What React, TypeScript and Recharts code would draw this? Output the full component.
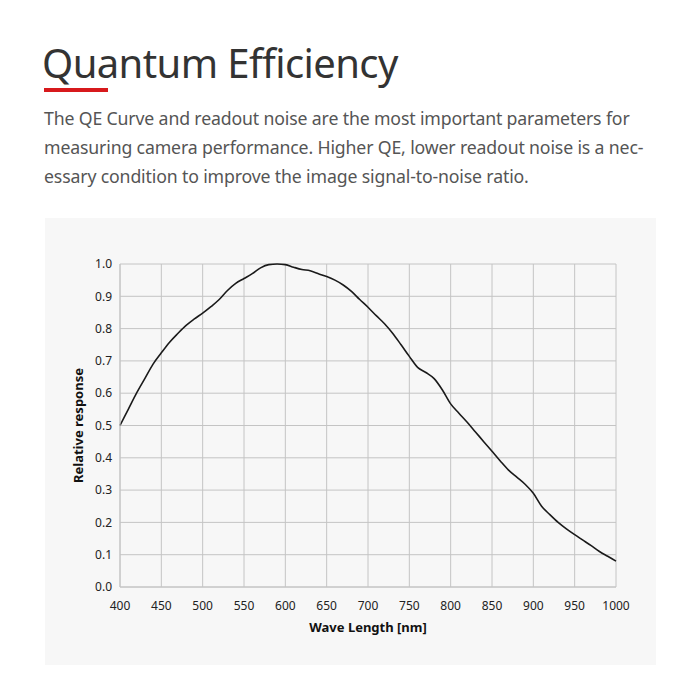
import { LineChart, Line, XAxis, YAxis, CartesianGrid, Label } from "recharts";

const wavelengths = [
  400, 410, 420, 430, 440, 450, 460, 470, 480, 490, 500, 510, 520, 530, 540,
  550, 560, 570, 580, 590, 600, 610, 620, 630, 640, 650, 660, 670, 680, 690,
  700, 710, 720, 730, 740, 750, 760, 770, 780, 790, 800, 810, 820, 830, 840,
  850, 860, 870, 880, 890, 900, 910, 920, 930, 940, 950, 960, 970, 980, 990,
  1000,
];

const response = [
  0.5, 0.55, 0.6, 0.645, 0.69, 0.725, 0.758, 0.785, 0.81, 0.83, 0.848, 0.868,
  0.89, 0.918, 0.94, 0.955, 0.97, 0.988, 0.998, 1.0, 0.998, 0.99, 0.983, 0.979,
  0.97, 0.961, 0.95, 0.935, 0.915, 0.89, 0.866, 0.84, 0.815, 0.785, 0.75,
  0.714, 0.68, 0.664, 0.645, 0.61, 0.567, 0.538, 0.51, 0.48, 0.45, 0.42, 0.39,
  0.362, 0.34, 0.318, 0.29, 0.25, 0.224, 0.2, 0.18, 0.162, 0.145, 0.128, 0.11,
  0.095, 0.08,
];

const xTicks = [400, 450, 500, 550, 600, 650, 700, 750, 800, 850, 900, 950, 1000];
const yTicks = [0, 0.1, 0.2, 0.3, 0.4, 0.5, 0.6, 0.7, 0.8, 0.9, 1.0];

const data = wavelengths.map((w, i) => ({ w, qe: response[i] }));

const GRID = "#c4c4c4";
const FONT = "'Noto Sans', 'Open Sans', sans-serif";

export default function App() {
  return (
    <div
      style={{
        position: "relative",
        width: 700,
        height: 700,
        margin: -8,
        background: "#fff",
        fontFamily: FONT,
        overflow: "hidden",
      }}
    >
      <div
        style={{
          position: "absolute",
          left: 42,
          top: 35,
          fontSize: 40,
          color: "#333",
          letterSpacing: -0.6,
          whiteSpace: "nowrap",
        }}
      >
        Quantum Efficiency
      </div>
      <div
        style={{
          position: "absolute",
          left: 44,
          top: 88,
          width: 64,
          height: 4,
          background: "#d7191c",
        }}
      />
      <div
        style={{
          position: "absolute",
          left: 44,
          top: 104,
          fontSize: 17.7,
          lineHeight: "29px",
          color: "#555",
          whiteSpace: "nowrap",
          letterSpacing: -0.15,
        }}
      >
        The QE Curve and readout noise are the most important parameters for
        <br />
        measuring camera performance. Higher QE, lower readout noise is a nec-
        <br />
        essary condition to improve the image signal-to-noise ratio.
      </div>
      <div
        style={{
          position: "absolute",
          left: 45,
          top: 218,
          width: 611,
          height: 447,
          background: "#f7f7f7",
        }}
      >
        <LineChart
          width={611}
          height={447}
          data={data}
          margin={{ top: 46, right: 40, left: 30, bottom: 0 }}
        >
          <CartesianGrid stroke={GRID} strokeWidth={1} />
          <XAxis
            dataKey="w"
            type="number"
            domain={[400, 1000]}
            ticks={xTicks}
            interval={0}
            height={78}
            axisLine={{ stroke: GRID }}
            tickLine={false}
            tickMargin={8}
            tick={{ fontSize: 12, fill: "#222", fontFamily: FONT }}
          >
            <Label
              value="Wave Length [nm]"
              position="insideTop"
              offset={36}
              style={{
                fontSize: 13,
                fontWeight: 700,
                fill: "#111",
                fontFamily: FONT,
              }}
            />
          </XAxis>
          <YAxis
            type="number"
            domain={[0, 1]}
            ticks={yTicks}
            interval={0}
            width={45}
            axisLine={{ stroke: GRID }}
            tickLine={false}
            tickMargin={2}
            tickFormatter={(v: number) => v.toFixed(1)}
            tick={{ fontSize: 12, fill: "#222", fontFamily: FONT }}
          >
            <Label
              value="Relative response"
              angle={-90}
              position="center"
              dx={-19}
              style={{
                fontSize: 13,
                fontWeight: 700,
                fill: "#111",
                fontFamily: FONT,
                textAnchor: "middle",
              }}
            />
          </YAxis>
          <Line
            type="monotone"
            dataKey="qe"
            stroke="#1a1a1a"
            strokeWidth={1.6}
            dot={false}
            isAnimationActive={false}
          />
        </LineChart>
      </div>
    </div>
  );
}
